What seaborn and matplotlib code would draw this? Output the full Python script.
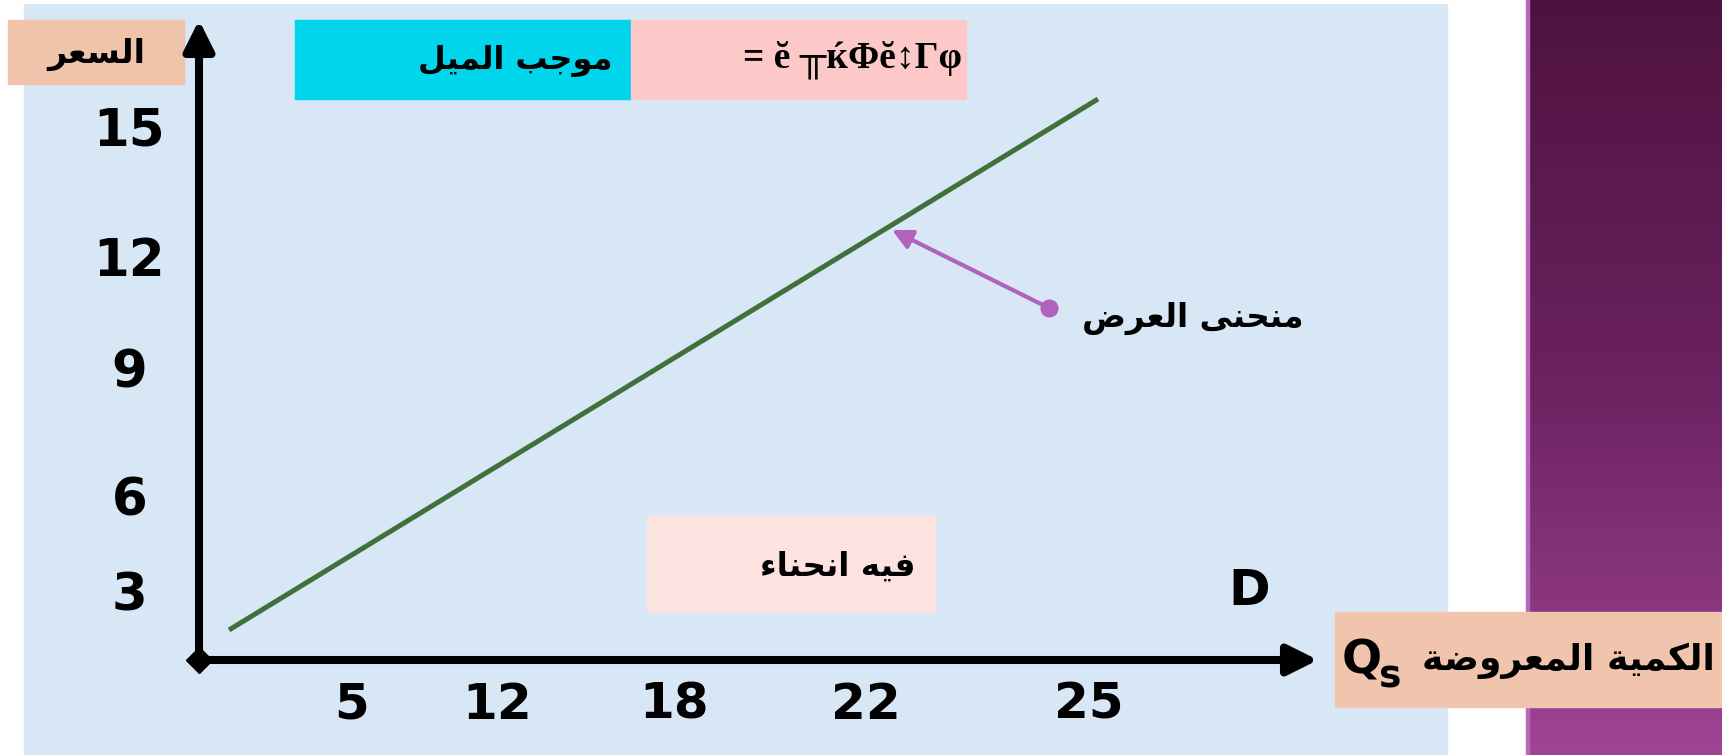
import numpy as np
import matplotlib
matplotlib.use("Agg")
import matplotlib.pyplot as plt
import seaborn as sns
import pandas as pd
from matplotlib.colors import LinearSegmentedColormap
from matplotlib.patches import Rectangle

sns.set_theme(style="white")
plt.rcParams['font.family'] = ['DejaVu Sans']
plt.rcParams['text.color'] = 'black'

##### DATA #####
price_labels = ["15", "12", "9", "6", "3"]
qty_labels = ["5", "12", "18", "22", "25"]
# supply curve endpoints, in chart units (px from the origin)
supply_q = [30, 899]
supply_p = [30, 561]

title_y = "السعر"
title_x = "الكمية المعروضة"
slope_txt = "موجب الميل"
garbled_txt = "= ĕ ╥ќΦĕ↕Γφ"
curve_txt = "منحنى العرض"
bend_txt = "فيه انحناء"


##### ARABIC SHAPING (matplotlib does not join letters) #####
FORMS = {
    'ء': ('\uFE80', None, None, None),
    'ا': ('\uFE8D', '\uFE8E', None, None),
    'ب': ('\uFE8F', '\uFE90', '\uFE91', '\uFE92'),
    'ة': ('\uFE93', '\uFE94', None, None),
    'ج': ('\uFE9D', '\uFE9E', '\uFE9F', '\uFEA0'),
    'ح': ('\uFEA1', '\uFEA2', '\uFEA3', '\uFEA4'),
    'ر': ('\uFEAD', '\uFEAE', None, None),
    'س': ('\uFEB1', '\uFEB2', '\uFEB3', '\uFEB4'),
    'ض': ('\uFEBD', '\uFEBE', '\uFEBF', '\uFEC0'),
    'ع': ('\uFEC9', '\uFECA', '\uFECB', '\uFECC'),
    'ف': ('\uFED1', '\uFED2', '\uFED3', '\uFED4'),
    'ك': ('\uFED9', '\uFEDA', '\uFEDB', '\uFEDC'),
    'ل': ('\uFEDD', '\uFEDE', '\uFEDF', '\uFEE0'),
    'م': ('\uFEE1', '\uFEE2', '\uFEE3', '\uFEE4'),
    'ن': ('\uFEE5', '\uFEE6', '\uFEE7', '\uFEE8'),
    'ه': ('\uFEE9', '\uFEEA', '\uFEEB', '\uFEEC'),
    'و': ('\uFEED', '\uFEEE', None, None),
    'ى': ('\uFEEF', '\uFEF0', None, None),
    'ي': ('\uFEF1', '\uFEF2', '\uFEF3', '\uFEF4'),
}


def dual(c):
    return c in FORMS and FORMS[c][2] is not None


def joins(c):
    return c in FORMS and FORMS[c][1] is not None


def shape(text):
    out = []
    for i, c in enumerate(text):
        if c not in FORMS:
            out.append(c)
            continue
        prev = text[i - 1] if i > 0 else ' '
        nxt = text[i + 1] if i + 1 < len(text) else ' '
        jp = dual(prev) and joins(c)
        jn = dual(c) and joins(nxt)
        iso, fin, ini, med = FORMS[c]
        if jp and jn:
            out.append(med)
        elif jp:
            out.append(fin)
        elif jn:
            out.append(ini)
        else:
            out.append(iso)
    return ''.join(out)[::-1]


##### FIGURE #####
W, H = 1722, 755
fig = plt.figure(figsize=(W / 100, H / 100), dpi=100)
fig.patch.set_facecolor("white")

# slide background, pixel coordinates
bg = fig.add_axes([0, 0, 1, 1])
bg.set_xlim(0, W)
bg.set_ylim(H, 0)
bg.axis("off")
bg.add_patch(Rectangle((24, 4), 1447 - 24, H - 4, color="#d8e7f6", zorder=0))

purple = LinearSegmentedColormap.from_list("pp", ["#4f1240", "#6a2260", "#a04494"])
grad = np.linspace(0, 1, 256).reshape(-1, 1)
bg.imshow(grad, cmap=purple, extent=(1526, W, H, 0), aspect="auto", zorder=0)
bg.add_patch(Rectangle((1526, 0), 3, H, color="#b868b8", zorder=1))

arabic = dict(family=['DejaVu Sans'], fontweight="bold", color="black")

# price title
bg.add_patch(Rectangle((8, 20), 176, 64, color="#f0c4ab", zorder=2))
bg.text(96, 54, shape(title_y), ha="center", va="center", fontsize=24, zorder=3, **arabic)

# slope boxes
bg.add_patch(Rectangle((295, 20), 336, 79, color="#00d5ec", zorder=2))
bg.add_patch(Rectangle((631, 20), 335, 79, color="#fdc9c8", zorder=2))
bg.text(612, 60, shape(slope_txt), ha="right", va="center", fontsize=23, zorder=3, **arabic)
bg.text(962, 60, garbled_txt, ha="right", va="center", fontsize=27, fontweight="bold",
        color="black", family=['Liberation Serif', 'DejaVu Serif'], zorder=3)

# bend box
bg.add_patch(Rectangle((647, 516), 288, 96, color="#fde3df", zorder=2))
bg.text(916, 566, shape(bend_txt), ha="right", va="center", fontsize=23.5, zorder=3, **arabic)

# quantity title
bg.add_patch(Rectangle((1335, 612), W - 1335, 95, color="#f1c4ad", zorder=2))
bg.text(1715, 661, shape(title_x), ha="right", va="center", fontsize=26, zorder=3, **arabic)
bg.text(1342, 661, "Q", ha="left", va="center", fontsize=34, fontweight="bold",
        color="black", zorder=3)
bg.text(1379, 677, "s", ha="left", va="center", fontsize=27, fontweight="bold",
        color="black", zorder=3)

# curve label
bg.text(1303, 318, shape(curve_txt), ha="right", va="center", fontsize=23.5, zorder=3, **arabic)
bg.text(1249, 591, "D", ha="center", va="center", fontsize=36, fontweight="bold",
        color="black", zorder=3)

##### CHART #####
ox, oy, tx, ty = 199, 660, 1318, 20
ax = fig.add_axes([ox / W, (H - oy) / H, (tx - ox) / W, (oy - ty) / H])
ax.patch.set_alpha(0)
ax.set_xlim(0, tx - ox)
ax.set_ylim(0, oy - ty)
for s in ax.spines.values():
    s.set_visible(False)

curve = pd.DataFrame({"q": supply_q, "p": supply_p})
sns.lineplot(data=curve, x="q", y="p", ax=ax, color="#41703a", linewidth=3.6,
             solid_capstyle="butt", zorder=3)

# axes with arrow heads
arrow = dict(arrowstyle="-|>,head_length=0.9,head_width=0.45", color="black",
             lw=5.8, mutation_scale=20, shrinkA=0, shrinkB=0)
ax.annotate("", xy=(tx - ox, 0), xytext=(0, 0), arrowprops=arrow, annotation_clip=False)
ax.annotate("", xy=(0, oy - ty), xytext=(0, 0), arrowprops=arrow, annotation_clip=False)
ax.plot([0], [0], marker="D", markersize=13, color="black", clip_on=False, zorder=5)

# pointer to the curve
ax.annotate("", xy=(693, 430), xytext=(850, 352),
            arrowprops=dict(arrowstyle="-|>,head_length=0.7,head_width=0.35", color="#b062bd",
                            lw=3, mutation_scale=17, shrinkA=0, shrinkB=0))
ax.plot([850], [352], marker="o", markersize=12, color="#b062bd", zorder=4)

ax.set_xticks([153, 298, 475, 667, 890], qty_labels)
ax.set_yticks([534, 404, 292, 164, 69], price_labels)
ax.tick_params(axis="x", length=0, pad=15, labelsize=36, labelcolor="black")
ax.tick_params(axis="y", length=0, pad=50, labelsize=37, labelcolor="black")
for lab in ax.get_xticklabels() + ax.get_yticklabels():
    lab.set_fontweight("bold")
for lab in ax.get_yticklabels():
    lab.set_ha("center")
ax.set_xlabel("")
ax.set_ylabel("")

fig.savefig("out.png", dpi=100)
